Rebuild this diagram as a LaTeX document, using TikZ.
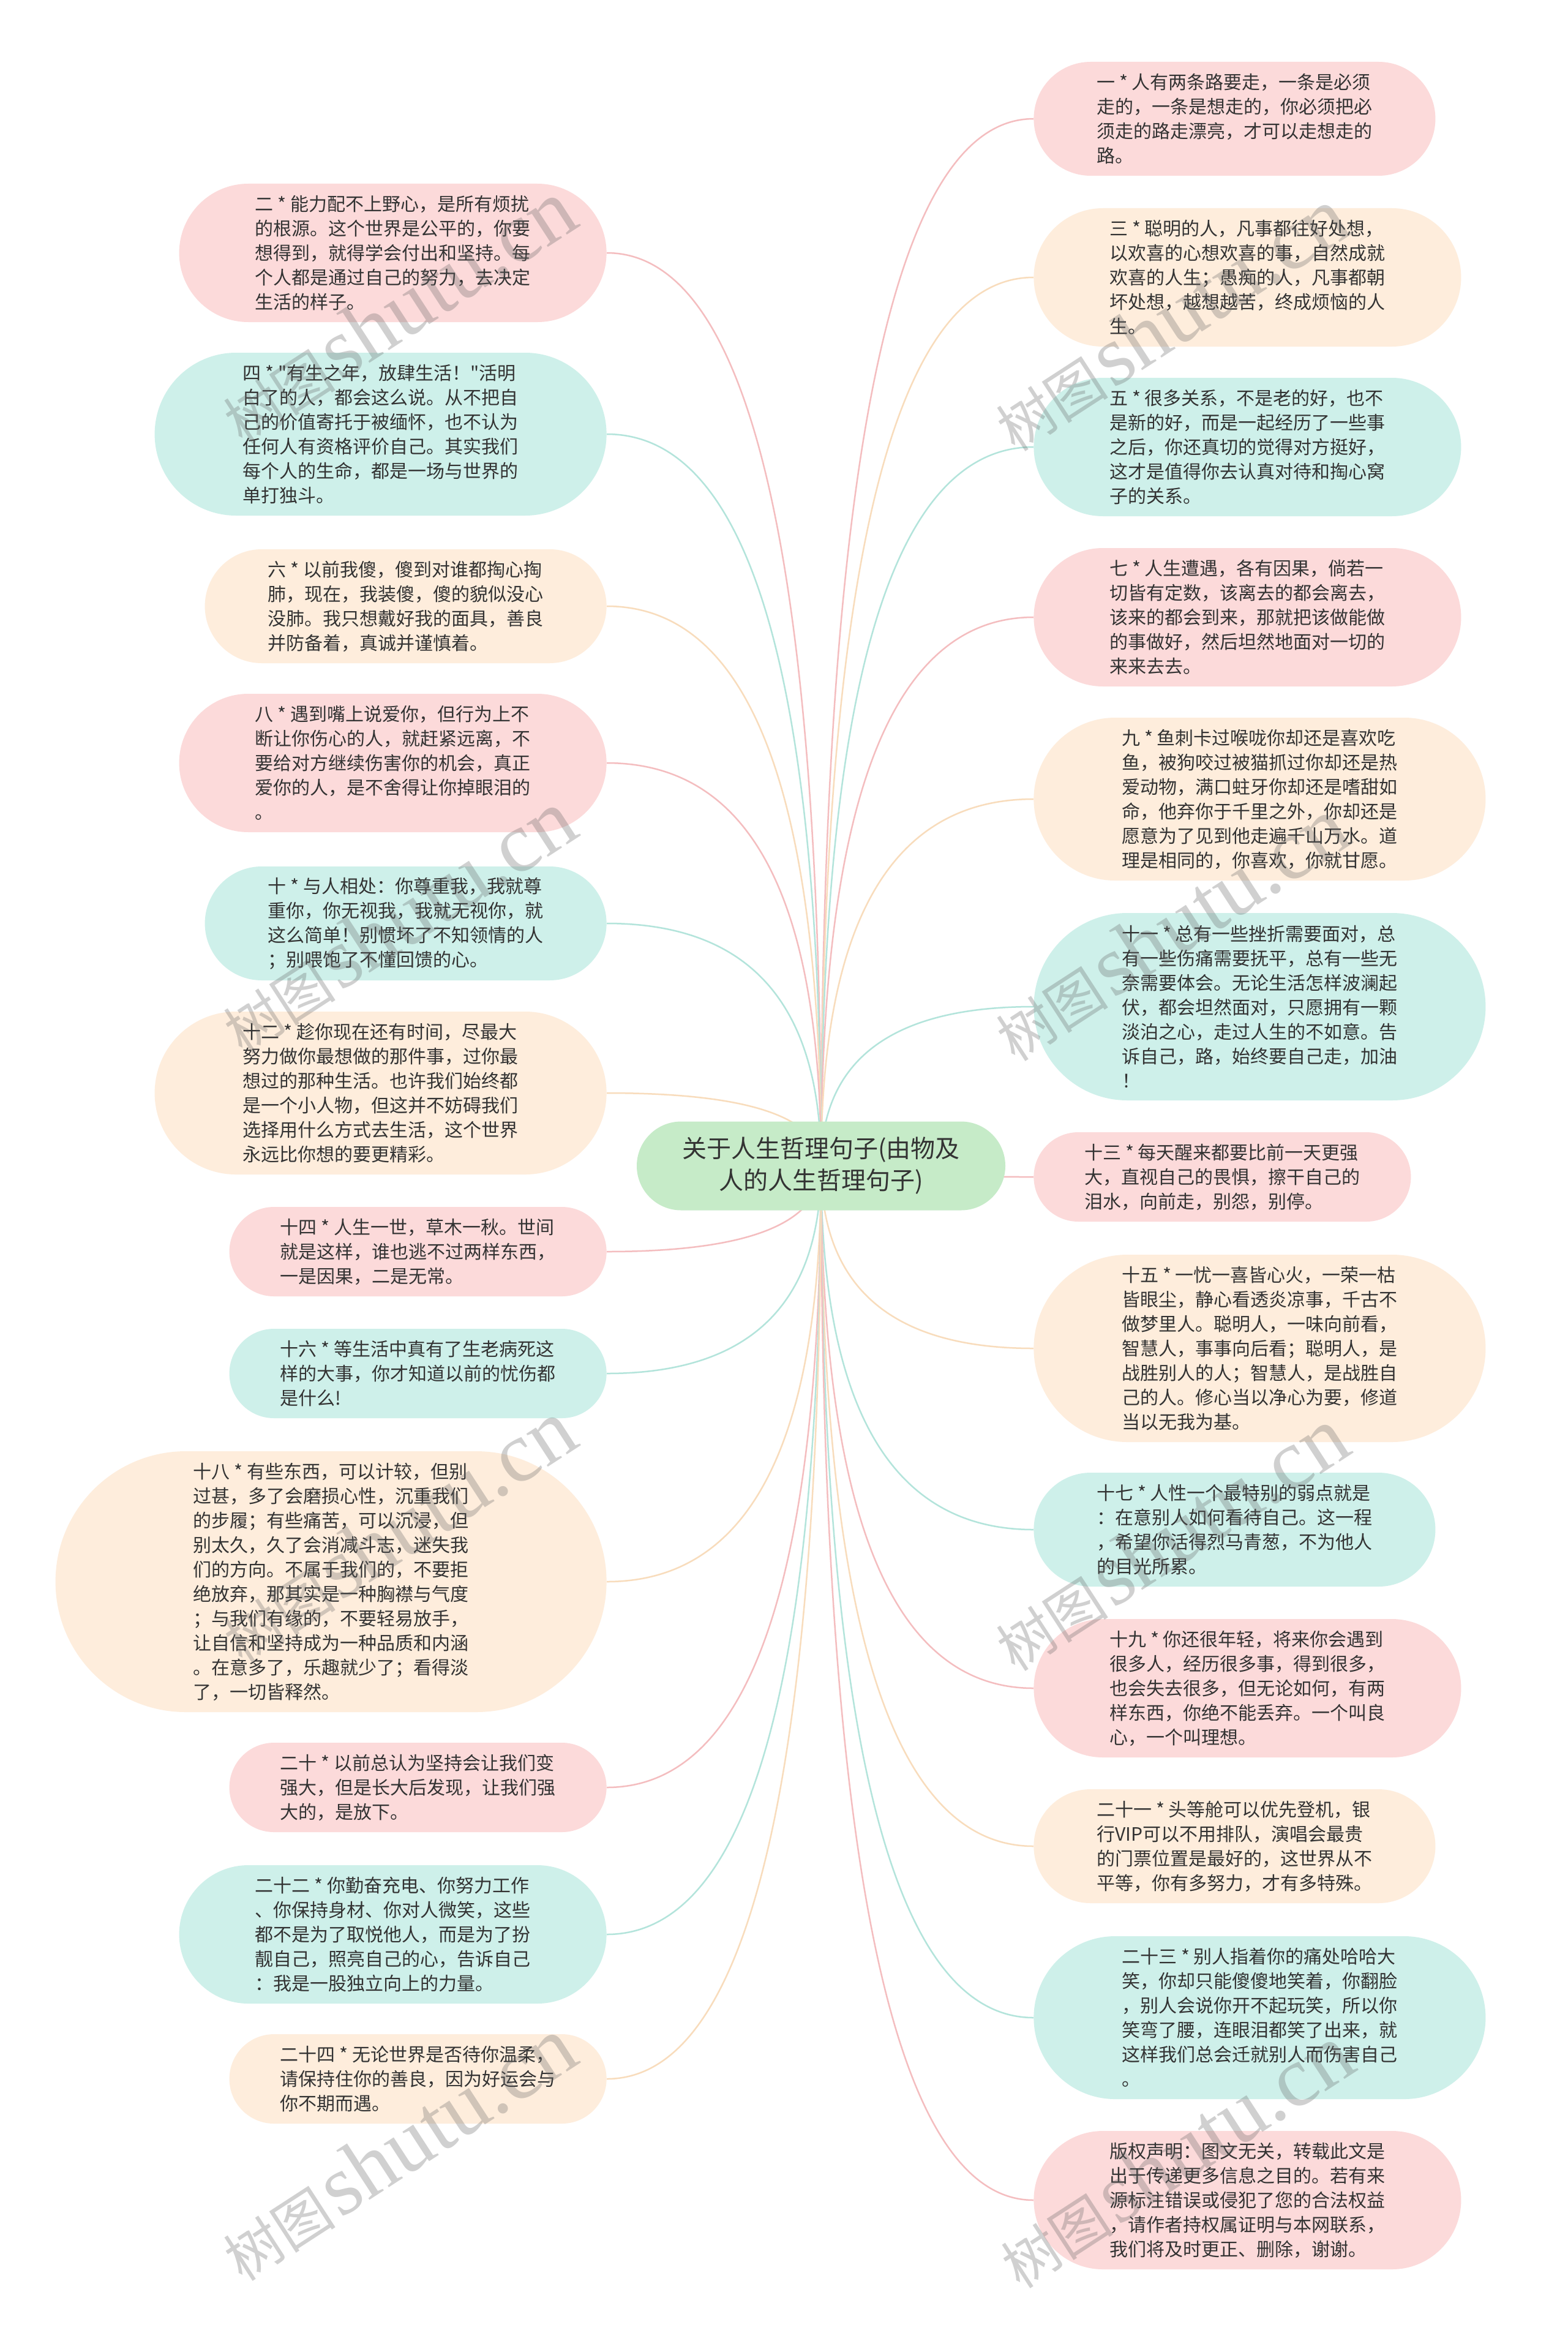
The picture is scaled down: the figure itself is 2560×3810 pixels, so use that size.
\documentclass[tikz,border=0pt]{standalone}
\usepackage{fontspec}
\newfontfamily\cjk{Noto Sans CJK SC}
\newfontfamily\wmserif{Liberation Serif}
\usetikzlibrary{shapes.misc,calc,backgrounds}
\definecolor{pinkfill}{HTML}{FCDADA}
\definecolor{peachfill}{HTML}{FEEDDC}
\definecolor{tealfill}{HTML}{CEF0EA}
\definecolor{rootfill}{HTML}{C6EBC8}
\definecolor{pinkline}{HTML}{F4BDBF}
\definecolor{peachline}{HTML}{F8DCBC}
\definecolor{tealline}{HTML}{B3E4DB}
\definecolor{txt}{HTML}{333333}
\tikzset{
  leaf/.style={rounded rectangle, draw=none, text=txt, align=left,
    inner xsep=3pt, inner ysep=2pt, font=\cjk\fontsize{15}{20}\selectfont},
  pinkleaf/.style={leaf, fill=pinkfill},
  peachleaf/.style={leaf, fill=peachfill},
  tealleaf/.style={leaf, fill=tealfill},
  rootbox/.style={rounded rectangle, draw=none, fill=rootfill, text=txt, align=center,
    inner xsep=3pt, inner ysep=2pt, minimum width=307pt, minimum height=72.5pt,
    font=\cjk\fontsize{20}{26}\selectfont},
  lines3/.style={minimum height=73pt, minimum width=314pt},
  lines4/.style={minimum height=93pt, minimum width=334pt},
  lines5/.style={minimum height=113pt, minimum width=355pt},
  lines6/.style={minimum height=133pt, minimum width=375pt},
  lines7/.style={minimum height=153pt, minimum width=375pt},
  lines10/.style={minimum height=213pt, minimum width=456pt},
  conn/.style={line width=1.25pt},
  wm/.style={text=black!60, text opacity=0.3, rotate=33, inner sep=0pt}
}
\newcommand{\linkto}[3]{%
  \draw[conn,#3] let \p1=(root.center), \p2=(#1.#2) in
    (\p1) .. controls (\x1,{\y1+0.6667*(\y2-\y1)}) and ({\x2+0.6667*(\x1-\x2)},\y2) .. (\p2);}
\newcommand{\wmtext}{{\cjk\fontsize{46}{46}\selectfont 树图} {\wmserif\fontsize{70}{70}\selectfont shutu.cn}}
\begin{document}
\begin{tikzpicture}[x=0.5pt,y=-0.5pt]
\useasboundingbox (0,0) rectangle (2560,3810);

\node[rootbox] (root) at (1341,1904) {关于人生哲理句子(由物及\\人的人生哲理句子)};

% right column
\node[pinkleaf, lines4, anchor=west] (r1) at (1688,194) {一 * 人有两条路要走，一条是必须\\走的，一条是想走的，你必须把必\\须走的路走漂亮，才可以走想走的\\路。};
\node[peachleaf, lines5, anchor=west] (r3) at (1688,453) {三 * 聪明的人，凡事都往好处想，\\以欢喜的心想欢喜的事，自然成就\\欢喜的人生；愚痴的人，凡事都朝\\坏处想，越想越苦，终成烦恼的人\\生。};
\node[tealleaf, lines5, anchor=west] (r5) at (1688,730) {五 * 很多关系，不是老的好，也不\\是新的好，而是一起经历了一些事\\之后，你还真切的觉得对方挺好，\\这才是值得你去认真对待和掏心窝\\子的关系。};
\node[pinkleaf, lines5, anchor=west] (r7) at (1688,1008) {七 * 人生遭遇，各有因果，倘若一\\切皆有定数，该离去的都会离去，\\该来的都会到来，那就把该做能做\\的事做好，然后坦然地面对一切的\\来来去去。};
\node[peachleaf, lines6, anchor=west] (r9) at (1688,1305) {九 * 鱼刺卡过喉咙你却还是喜欢吃\\鱼，被狗咬过被猫抓过你却还是热\\爱动物，满口蛀牙你却还是嗜甜如\\命，他弃你于千里之外，你却还是\\愿意为了见到他走遍千山万水。道\\理是相同的，你喜欢，你就甘愿。};
\node[tealleaf, lines7, anchor=west] (r11) at (1688,1644) {十一 * 总有一些挫折需要面对，总\\有一些伤痛需要抚平，总有一些无\\奈需要体会。无论生活怎样波澜起\\伏，都会坦然面对，只愿拥有一颗\\淡泊之心，走过人生的不如意。告\\诉自己，路，始终要自己走，加油\\！};
\node[pinkleaf, lines3, anchor=west] (r13) at (1688,1922) {十三 * 每天醒来都要比前一天更强\\大，直视自己的畏惧，擦干自己的\\泪水，向前走，别怨，别停。};
\node[peachleaf, lines7, anchor=west] (r15) at (1688,2202) {十五 * 一忧一喜皆心火，一荣一枯\\皆眼尘，静心看透炎凉事，千古不\\做梦里人。聪明人，一味向前看，\\智慧人，事事向后看；聪明人，是\\战胜别人的人；智慧人，是战胜自\\己的人。修心当以净心为要，修道\\当以无我为基。};
\node[tealleaf, lines4, anchor=west] (r17) at (1688,2498) {十七 * 人性一个最特别的弱点就是\\：在意别人如何看待自己。这一程\\，希望你活得烈马青葱，不为他人\\的目光所累。};
\node[pinkleaf, lines5, anchor=west] (r19) at (1688,2757) {十九 * 你还很年轻，将来你会遇到\\很多人，经历很多事，得到很多，\\也会失去很多，但无论如何，有两\\样东西，你绝不能丢弃。一个叫良\\心，一个叫理想。};
\node[peachleaf, lines4, anchor=west] (r21) at (1688,3015) {二十一 * 头等舱可以优先登机，银\\行VIP可以不用排队，演唱会最贵\\的门票位置是最好的，这世界从不\\平等，你有多努力，才有多特殊。};
\node[tealleaf, lines6, anchor=west] (r23) at (1688,3295) {二十三 * 别人指着你的痛处哈哈大\\笑，你却只能傻傻地笑着，你翻脸\\，别人会说你开不起玩笑，所以你\\笑弯了腰，连眼泪都笑了出来，就\\这样我们总会迁就别人而伤害自己\\。};
\node[pinkleaf, lines5, anchor=west] (rc) at (1688,3593) {版权声明：图文无关，转载此文是\\出于传递更多信息之目的。若有来\\源标注错误或侵犯了您的合法权益\\，请作者持权属证明与本网联系，\\我们将及时更正、删除，谢谢。};

% left column
\node[pinkleaf, lines5, anchor=east] (l2) at (991,413) {二 * 能力配不上野心，是所有烦扰\\的根源。这个世界是公平的，你要\\想得到，就得学会付出和坚持。每\\个人都是通过自己的努力，去决定\\生活的样子。};
\node[tealleaf, lines6, anchor=east] (l4) at (991,709) {四 * "有生之年，放肆生活！"活明\\白了的人，都会这么说。从不把自\\己的价值寄托于被缅怀，也不认为\\任何人有资格评价自己。其实我们\\每个人的生命，都是一场与世界的\\单打独斗。};
\node[peachleaf, lines4, anchor=east] (l6) at (991,990) {六 * 以前我傻，傻到对谁都掏心掏\\肺，现在，我装傻，傻的貌似没心\\没肺。我只想戴好我的面具，善良\\并防备着，真诚并谨慎着。};
\node[pinkleaf, lines5, anchor=east] (l8) at (991,1246) {八 * 遇到嘴上说爱你，但行为上不\\断让你伤心的人，就赶紧远离，不\\要给对方继续伤害你的机会，真正\\爱你的人，是不舍得让你掉眼泪的\\。};
\node[tealleaf, lines4, anchor=east] (l10) at (991,1508) {十 * 与人相处：你尊重我，我就尊\\重你，你无视我，我就无视你，就\\这么简单！别惯坏了不知领情的人\\；别喂饱了不懂回馈的心。};
\node[peachleaf, lines6, anchor=east] (l12) at (991,1785) {十二 * 趁你现在还有时间，尽最大\\努力做你最想做的那件事，过你最\\想过的那种生活。也许我们始终都\\是一个小人物，但这并不妨碍我们\\选择用什么方式去生活，这个世界\\永远比你想的要更精彩。};
\node[pinkleaf, lines3, anchor=east] (l14) at (991,2044) {十四 * 人生一世，草木一秋。世间\\就是这样，谁也逃不过两样东西，\\一是因果，二是无常。};
\node[tealleaf, lines3, anchor=east] (l16) at (991,2243) {十六 * 等生活中真有了生老病死这\\样的大事，你才知道以前的忧伤都\\是什么!};
\node[peachleaf, lines10, anchor=east] (l18) at (991,2583) {十八 * 有些东西，可以计较，但别\\过甚，多了会磨损心性，沉重我们\\的步履；有些痛苦，可以沉浸，但\\别太久，久了会消减斗志，迷失我\\们的方向。不属于我们的，不要拒\\绝放弃，那其实是一种胸襟与气度\\；与我们有缘的，不要轻易放手，\\让自信和坚持成为一种品质和内涵\\。在意多了，乐趣就少了；看得淡\\了，一切皆释然。};
\node[pinkleaf, lines3, anchor=east] (l20) at (991,2919) {二十 * 以前总认为坚持会让我们变\\强大，但是长大后发现，让我们强\\大的，是放下。};
\node[tealleaf, lines5, anchor=east] (l22) at (991,3159) {二十二 * 你勤奋充电、你努力工作\\、你保持身材、你对人微笑，这些\\都不是为了取悦他人，而是为了扮\\靓自己，照亮自己的心，告诉自己\\：我是一股独立向上的力量。};
\node[peachleaf, lines3, anchor=east] (l24) at (991,3395) {二十四 * 无论世界是否待你温柔，\\请保持住你的善良，因为好运会与\\你不期而遇。};

\begin{pgfonlayer}{background}
\fill[white] (0,0) rectangle (2560,3810);
\linkto{r1}{west}{pinkline}
\linkto{r3}{west}{peachline}
\linkto{r5}{west}{tealline}
\linkto{r7}{west}{pinkline}
\linkto{r9}{west}{peachline}
\linkto{r11}{west}{tealline}
\linkto{r13}{west}{pinkline}
\linkto{r15}{west}{peachline}
\linkto{r17}{west}{tealline}
\linkto{r19}{west}{pinkline}
\linkto{r21}{west}{peachline}
\linkto{r23}{west}{tealline}
\linkto{rc}{west}{pinkline}
\linkto{l2}{east}{pinkline}
\linkto{l4}{east}{tealline}
\linkto{l6}{east}{peachline}
\linkto{l8}{east}{pinkline}
\linkto{l10}{east}{tealline}
\linkto{l12}{east}{peachline}
\linkto{l14}{east}{pinkline}
\linkto{l16}{east}{tealline}
\linkto{l18}{east}{peachline}
\linkto{l20}{east}{pinkline}
\linkto{l22}{east}{tealline}
\linkto{l24}{east}{peachline}
\end{pgfonlayer}

% watermarks
\node[wm] (w1) at (649,510) {\wmtext};
\node[wm] (w2) at (1911,522) {\wmtext};
\node[wm] (w3) at (649,1506) {\wmtext};
\node[wm] (w4) at (1911,1518) {\wmtext};
\node[wm] (w5) at (649,2502) {\wmtext};
\node[wm] (w6) at (1911,2514) {\wmtext};
\node[wm] (w7) at (649,3510) {\wmtext};
\node[wm] (w8) at (1919,3522) {\wmtext};
\end{tikzpicture}
\end{document}
